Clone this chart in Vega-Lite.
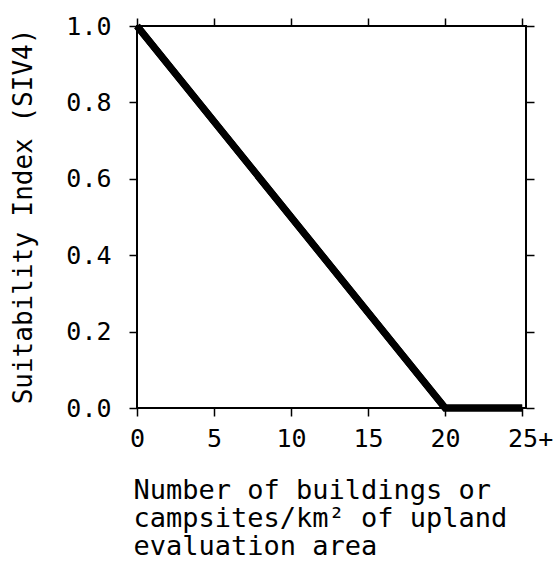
{
  "$schema": "https://vega.github.io/schema/vega-lite/v6.json",
  "autosize": "none",
  "padding": {"left": 137, "top": 26, "right": 28, "bottom": 160},
  "width": 389,
  "height": 382,
  "background": "white",
  "config": {
    "view": {"stroke": "black", "strokeWidth": 2},
    "axis": {
      "domain": false,
      "grid": false,
      "tickColor": "black",
      "tickWidth": 1.5,
      "tickSize": 8,
      "labelFont": "DejaVu Sans Mono",
      "titleFont": "DejaVu Sans Mono",
      "labelColor": "black",
      "titleColor": "black",
      "titleFontWeight": "normal"
    }
  },
  "data": {
    "values": [
      {"x": 0, "y": 1.0},
      {"x": 20, "y": 0.0},
      {"x": 25, "y": 0.0}
    ]
  },
  "layer": [
    {
      "mark": {"type": "line", "color": "black", "strokeWidth": 7, "strokeCap": "butt", "strokeJoin": "miter"},
      "encoding": {
        "x": {
          "field": "x",
          "type": "quantitative",
          "scale": {"domain": [0, 25.25], "nice": false, "zero": false},
          "axis": {
            "orient": "bottom",
            "values": [0, 5, 10, 15, 20, 25],
            "labelExpr": "datum.value == 25 ? '25+' : datum.label",
            "labelFontSize": 25,
            "labelPadding": 10,
            "labelFlush": false,
            "labelOffset": {"condition": {"test": "datum.value == 25", "value": 8}, "value": 0},
            "title": ["Number of buildings or", "campsites/km² of upland", "evaluation area"],
            "titleFontSize": 27,
            "titleLineHeight": 28,
            "titleAnchor": "start",
            "titleAlign": "left",
            "titleBaseline": "alphabetic",
            "titleX": -4,
            "titleY": 90
          }
        },
        "y": {
          "field": "y",
          "type": "quantitative",
          "scale": {"domain": [0, 1], "nice": false},
          "axis": {
            "orient": "left",
            "values": [0, 0.2, 0.4, 0.6, 0.8, 1.0],
            "format": ".1f",
            "labelFontSize": 25,
            "labelPadding": 18,
            "labelFlush": false,
            "title": "Suitability Index (SIV4)",
            "titleFontSize": 26,
            "titleAngle": -90,
            "titleAlign": "center",
            "titleBaseline": "middle",
            "titleX": -114,
            "titleY": 190
          }
        }
      }
    },
    {
      "mark": {"type": "line", "color": "black", "strokeWidth": 7, "strokeCap": "butt", "strokeJoin": "miter"},
      "encoding": {
        "x": {
          "field": "x",
          "type": "quantitative",
          "scale": {"domain": [0, 25.25], "nice": false, "zero": false},
          "axis": {"orient": "top", "values": [0, 5, 10, 15, 20, 25], "labels": false, "title": null}
        },
        "y": {
          "field": "y",
          "type": "quantitative",
          "scale": {"domain": [0, 1], "nice": false},
          "axis": {"orient": "right", "values": [0, 0.2, 0.4, 0.6, 0.8, 1.0], "labels": false, "title": null}
        }
      }
    }
  ],
  "resolve": {"axis": {"x": "independent", "y": "independent"}}
}
